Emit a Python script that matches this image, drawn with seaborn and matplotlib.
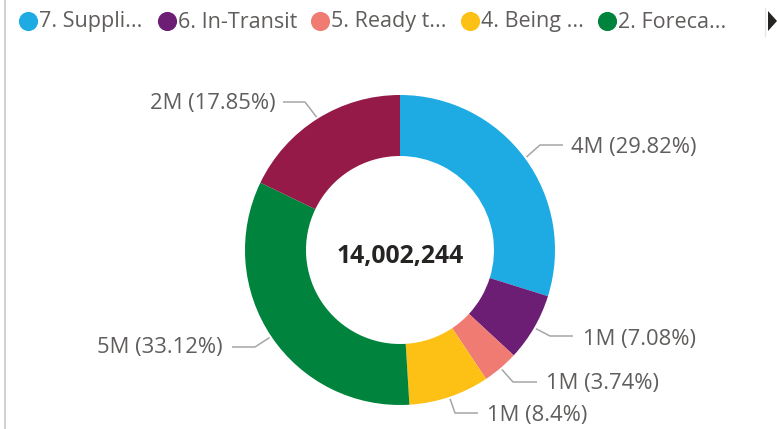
import numpy as np
import matplotlib
matplotlib.use("Agg")
import matplotlib.pyplot as plt
import seaborn as sns

# ---- data ----
categories = ["7. Suppli...", "6. In-Transit", "5. Ready t...", "4. Being ...", "2. Foreca...", "1. ..."]
values = [4174869, 991160, 523684, 1176188, 4636943, 2499400]
colors = ["#1EABE3", "#6B1E74", "#F07B72", "#FDC014", "#00843D", "#951A47"]

# ---- layout ----
W, H = 777, 429
CX, CY, R_OUT, R_IN = 400, 250, 155, 94
# per-slice label layout: (elbow_x, elbow_y, line_end_x, text_x, text_y, ha)
label_layout = [
    (540, 145, 563, 571, 147, "left"),
    (550, 336, 573, 583, 340, "left"),
    (513, 382, 537, 546, 384, "left"),
    (455, 413, 478, 487, 415, "left"),
    (255, 347, 232, 223, 348, "right"),
    (305, 102, 283, 276, 103, "right"),
]
legend_x = [28, 167, 320, 470, 607]
legend_y = 21

sns.set_theme(style="white")
plt.rcParams["font.family"] = ["Open Sans", "DejaVu Sans"]

fig = plt.figure(figsize=(W / 100, H / 100), dpi=100)
ax = fig.add_axes([0, 0, 1, 1])

palette = sns.color_palette(colors)
wedges, _ = ax.pie(values, colors=palette, center=(CX, CY), radius=R_OUT,
                   startangle=-90, counterclock=True,
                   wedgeprops=dict(width=R_OUT - R_IN, linewidth=0))
ax.set_xlim(0, W)
ax.set_ylim(H, 0)
ax.set_aspect("equal")
ax.axis("off")

total = sum(values)
text_color = "#605E5C"
line_color = "#A6A6A6"
for w, v, lay in zip(wedges, values, label_layout):
    mid = np.deg2rad((w.theta1 + w.theta2) / 2)
    sx = CX + (R_OUT + 2) * np.cos(mid)
    sy = CY + (R_OUT + 2) * np.sin(mid)
    ex, ey, lx, tx, ty, ha = lay
    ax.plot([sx, ex, lx], [sy, ey, ey], color=line_color, lw=1.1, solid_capstyle="butt")
    pct = round(v / total * 100, 2)
    label = f"{round(v / 1e6):.0f}M ({pct:g}%)"
    ax.text(tx, ty, label, ha=ha, va="center", fontsize=15.8, color=text_color)

ax.text(CX, CY + 6, f"{total:,}", ha="center", va="center", fontsize=17.8,
        fontweight="bold", color="#252423")

# legend
for x, c, name in zip(legend_x, colors[:5], categories[:5]):
    ax.scatter([x], [legend_y], s=190, color=c, linewidths=0, zorder=3)
    ax.text(x + 11, legend_y + 1, name, ha="left", va="center", fontsize=15.5, color=text_color)

# arrow and borders
ax.plot([4.5, 4.5], [0, H], color="#C8C8C8", lw=1.2)
ax.plot([765, 765], [8, 36], color="#E6E6E6", lw=1)
ax.fill([768, 777, 768], [11, 21, 31], color="#252423", lw=0)

fig.savefig("out.png", dpi=100)
